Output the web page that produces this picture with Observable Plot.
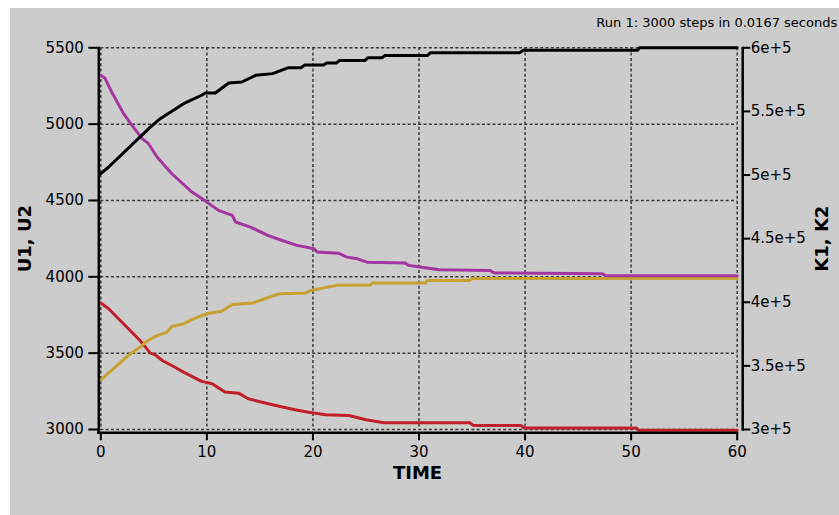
<!DOCTYPE html>
<html><head><meta charset="utf-8">
<script src="https://cdn.jsdelivr.net/npm/d3@7"></script>
<script src="https://cdn.jsdelivr.net/npm/@observablehq/plot@0.6"></script>
<style>
html,body{margin:0;padding:0;background:#ffffff;}
#wrap{position:absolute;left:10px;top:8px;width:829px;height:507px;background:#cccccc;}
</style></head><body><div id="wrap"></div>
<script>
// ---- data ----
const xTicks = [0, 10, 20, 30, 40, 50, 60];
const yTicks = [3000, 3500, 4000, 4500, 5000, 5500];
const kTicks = [300000, 350000, 400000, 450000, 500000, 550000, 600000];
const kLabels = ["3e+5", "3.5e+5", "4e+5", "4.5e+5", "5e+5", "5.5e+5", "6e+5"];

// U1 (magenta), left axis
const u1T = [0, 0.4, 1.1, 2.15, 2.95, 3.9, 4.5, 5.3, 6.7, 8.6, 9.55, 11.1, 12.4, 12.7, 14.1, 15.8, 17.1, 18.5, 20.1, 20.4, 22.4, 23.2, 24.2, 25.1, 28.7, 29.0, 30.1, 31.9, 36.7, 37.1, 47.3, 47.6, 60];
const u1V = [5320, 5300, 5200, 5069, 4992, 4905, 4872, 4785, 4675, 4555, 4512, 4435, 4402, 4359, 4326, 4270, 4238, 4206, 4184, 4162, 4155, 4129, 4118, 4096, 4090, 4075, 4064, 4047, 4042, 4025, 4020, 4007, 4007];
// U2 (red), left axis
const u2T = [0, 0.74, 3.7, 4.67, 5.1, 5.8, 7.0, 7.8, 9.5, 10.5, 11.7, 13.0, 13.9, 15.2, 16.5, 18.3, 19.6, 21.2, 23.4, 25.0, 26.7, 34.8, 35.1, 39.6, 39.9, 50.5, 50.7, 60];
const u2V = [3828, 3791, 3583, 3500, 3490, 3452, 3408, 3376, 3315, 3300, 3245, 3238, 3201, 3179, 3157, 3129, 3113, 3096, 3092, 3064, 3044, 3044, 3027, 3027, 3010, 3010, 2995, 2995];
// K1 (black), right axis
const k1T = [0, 0.74, 4.67, 5.6, 7.8, 9.5, 9.86, 10.8, 12.06, 13.3, 14.6, 16.2, 17.7, 18.9, 19.2, 21.0, 21.3, 22.2, 22.5, 24.9, 25.2, 26.5, 26.8, 30.8, 31.1, 39.5, 39.8, 50.6, 50.8, 60];
const k1V = [501100, 506300, 537700, 544300, 556100, 562700, 564500, 564500, 572300, 573100, 578400, 579700, 584400, 584400, 586400, 586400, 588000, 588000, 590000, 590000, 592200, 592200, 594000, 594000, 596200, 596200, 598000, 598000, 600000, 600000];
// K2 (yellow), right axis
const k2T = [0, 2.6, 3.9, 4.2, 5.1, 6.25, 6.7, 7.8, 8.6, 9.55, 10.2, 11.4, 12.4, 14.3, 15.2, 16.8, 19.3, 19.8, 20.9, 22.3, 25.4, 25.6, 30.6, 30.8, 34.8, 35.0, 60];
const k2V = [339100, 358200, 366000, 368600, 373100, 376600, 381000, 383000, 386500, 389600, 391400, 393000, 398300, 399400, 402000, 406700, 407200, 409300, 411100, 413300, 413300, 415100, 415100, 417100, 417100, 418600, 418600];

// right axis values mapped onto the left axis range
const kToU = d3.scaleLinear([300000, 600000], [3000, 5500]);
const kTicksU = kTicks.map(kToU);
const kLabelMap = new Map(kTicksU.map((v, i) => [v, kLabels[i]]));

const u1 = u1T.map((t, i) => ({t, v: u1V[i]}));
const u2 = u2T.map((t, i) => ({t, v: u2V[i]}));
const k1 = k1T.map((t, i) => ({t, v: kToU(k1V[i])}));
const k2 = k2T.map((t, i) => ({t, v: kToU(k2V[i])}));

const FONT = "'DejaVu Sans', Verdana, sans-serif";
const grid = {stroke: "#3a3a3a", strokeWidth: 1.5, strokeDasharray: "3,2.3"};

const plot = Plot.plot({
  width: 829, height: 507,
  marginLeft: 90.3, marginRight: 102.3, marginTop: 39.3, marginBottom: 86,
  style: `background: transparent; font-family: ${FONT}; font-size: 15px; color: #000; overflow: visible;`,
  x: {domain: [0, 60], label: null},
  y: {domain: [3000, 5500], label: null},
  marks: [
    Plot.ruleX(xTicks, grid),
    Plot.ruleY(yTicks, grid),
    Plot.line(u2, {x: "t", y: "v", stroke: "#c1202a", strokeWidth: 3}),
    Plot.line(k2, {x: "t", y: "v", stroke: "#c7a232", strokeWidth: 3}),
    Plot.line(u1, {x: "t", y: "v", stroke: "#a4379f", strokeWidth: 3}),
    Plot.line(k1, {x: "t", y: "v", stroke: "#000000", strokeWidth: 3}),
    Plot.ruleX([0], {dx: -2, strokeWidth: 2.5, insetBottom: -4.5, insetTop: -0.5}),
    Plot.ruleY([3000], {dy: 3.3, strokeWidth: 2.5, insetLeft: -3.2, insetRight: -1.5}),
    Plot.ruleX([60], {dx: 5.5, strokeWidth: 2.5, insetBottom: -1.7, insetTop: -0.6}),
    Plot.axisY(yTicks, {anchor: "left", tickSize: 10, tickPadding: 5, dx: -2, strokeWidth: 2, tickFormat: d => String(d), label: null}),
    Plot.axisY(kTicksU, {anchor: "right", tickSize: 7, tickPadding: 1, dx: 5.5, strokeWidth: 2, tickFormat: d => kLabelMap.get(d), label: null}),
    Plot.axisX(xTicks, {anchor: "bottom", dy: 3.3, tickSize: 8, tickPadding: 6, strokeWidth: 2, tickFormat: d => String(d), label: null}),
    Plot.text(["Run 1: 3000 steps in 0.0167 seconds"], {frameAnchor: "top-right", textAnchor: "end", lineAnchor: "bottom", dx: 100, dy: -20.8, fontSize: 13, fontFamily: FONT}),
    Plot.text(["TIME"], {frameAnchor: "bottom", textAnchor: "middle", lineAnchor: "middle", dy: 43.5, dx: -1.5, fontSize: 18, fontWeight: "bold", fontFamily: FONT}),
    Plot.text(["U1, U2"], {frameAnchor: "left", textAnchor: "middle", lineAnchor: "middle", rotate: -90, dx: -75.3, fontSize: 18, fontWeight: "bold", fontFamily: FONT}),
    Plot.text(["K1, K2"], {frameAnchor: "right", textAnchor: "middle", lineAnchor: "middle", rotate: -90, dx: 85.3, fontSize: 18, fontWeight: "bold", fontFamily: FONT})
  ]
});
document.getElementById("wrap").appendChild(plot);
</script>
</body></html>
